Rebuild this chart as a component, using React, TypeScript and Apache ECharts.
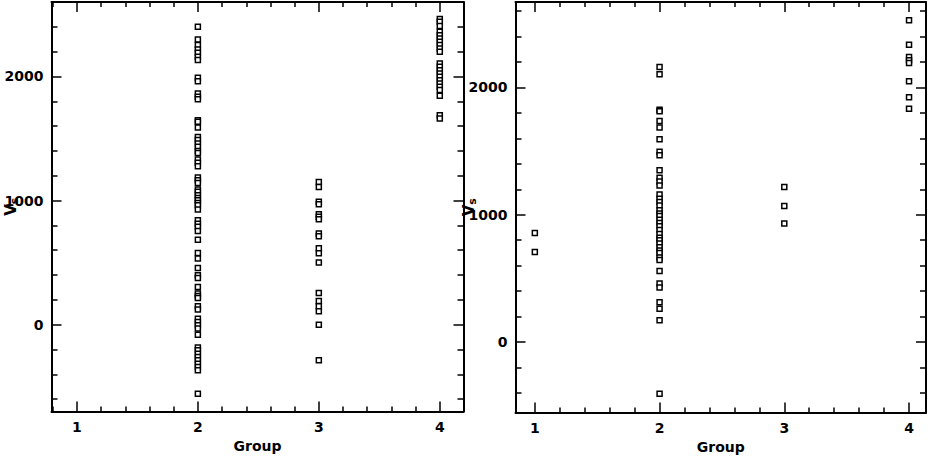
import React, { useEffect, useRef } from "react";
import * as echarts from "echarts";

const xTickLabels = [1, 2, 3, 4];
const yTickLabels = [0, 1000, 2000];

const leftGroup2 = [2400, 2298, 2253, 2218, 2191, 2158, 2132, 1989, 1962, 1863, 1836, 1817, 1648, 1634, 1588, 1513, 1487, 1460, 1433, 1400, 1384, 1331, 1304, 1277, 1185, 1164, 1142, 1089, 1070, 1043, 1021, 1003, 981, 962, 927, 841, 814, 788, 755, 685, 578, 532, 457, 398, 376, 304, 250, 231, 215, 148, 121, 48, 22, -5, -32, -81, -185, -207, -234, -261, -288, -315, -341, -368, -556];
const leftGroup3 = [1150, 1110, 990, 970, 890, 870, 850, 735, 712, 615, 575, 500, 255, 190, 148, 108, 0, -288];
const leftGroup4 = [2462, 2441, 2406, 2360, 2333, 2306, 2279, 2253, 2226, 2199, 2105, 2078, 2051, 2024, 1997, 1970, 1943, 1917, 1890, 1844, 1688, 1661];

const rightGroup1 = [856, 707];
const rightGroup2 = [2160, 2103, 1825, 1812, 1735, 1684, 1592, 1495, 1467, 1350, 1290, 1262, 1230, 1160, 1126, 1100, 1073, 1035, 1010, 990, 960, 935, 910, 880, 850, 820, 800, 775, 745, 720, 700, 665, 645, 558, 460, 430, 314, 262, 172, -405];
const rightGroup3 = [1217, 1068, 932];
const rightGroup4 = [2526, 2335, 2238, 2212, 2191, 2047, 1922, 1833];

const FONT = "DejaVu Sans";

function minorVals(min: number, max: number, step: number, majors: number[]) {
  const out: number[] = [];
  const start = Math.ceil(min / step - 1e-9);
  for (let k = start; k * step <= max + 1e-9; k++) {
    const v = Math.round(k * step * 1000) / 1000;
    if (v <= min || v >= max) continue;
    if (majors.some((m) => Math.abs(m - v) < 1e-6)) continue;
    out.push(v);
  }
  return out;
}

function buildAxes(gi: number, xr: number[], yr: number[], yNameGap: number) {
  const xMinor = minorVals(xr[0], xr[1], 0.2, xTickLabels);
  const yMinor = minorVals(yr[0], yr[1], 200, yTickLabels);
  const line = { show: true, onZero: false, lineStyle: { color: "#000", width: 2 } };
  const noLine = { show: false, onZero: false };
  const labelStyle = { fontFamily: FONT, fontWeight: "bold" as const, fontSize: 14, color: "#000" };
  const fmt = (v: number) => String(v);
  const tick = (vals: number[], len: number) => ({
    show: true,
    inside: true,
    length: len,
    customValues: vals,
    lineStyle: { color: "#000", width: 1.5 },
  });
  const xBase = { type: "value", gridIndex: gi, min: xr[0], max: xr[1], splitLine: { show: false } };
  const yBase = { type: "value", gridIndex: gi, min: yr[0], max: yr[1], splitLine: { show: false } };
  const xAxes = [
    {
      ...xBase,
      position: "bottom",
      axisLine: line,
      axisTick: tick(xTickLabels, 10),
      axisLabel: { ...labelStyle, customValues: xTickLabels, margin: 8, formatter: fmt },
      name: "Group",
      nameLocation: "middle",
      nameGap: 27,
      nameMoveOverlap: false,
      nameTextStyle: { ...labelStyle, fontSize: 14 },
    },
    { ...xBase, position: "bottom", axisLine: noLine, axisTick: tick(xMinor, 5), axisLabel: { show: false } },
    { ...xBase, position: "top", axisLine: line, axisTick: tick(xTickLabels, 10), axisLabel: { show: false } },
    { ...xBase, position: "top", axisLine: noLine, axisTick: tick(xMinor, 5), axisLabel: { show: false } },
  ];
  const yAxes = [
    {
      ...yBase,
      position: "left",
      axisLine: line,
      axisTick: tick(yTickLabels, 10),
      axisLabel: { ...labelStyle, customValues: yTickLabels, margin: 8, formatter: fmt },
      name: "{v|V}{s|s}",
      nameLocation: "middle",
      nameRotate: 90,
      nameGap: yNameGap,
      nameMoveOverlap: false,
      nameTextStyle: {
        rich: {
          v: { fontFamily: FONT, fontWeight: "bold", fontSize: 15, color: "#000" },
          s: { fontFamily: FONT, fontWeight: "bold", fontSize: 11, color: "#000", padding: [6, 0, 0, 0] },
        },
      },
    },
    { ...yBase, position: "left", axisLine: noLine, axisTick: tick(yMinor, 6), axisLabel: { show: false } },
    { ...yBase, position: "right", axisLine: line, axisTick: tick(yTickLabels, 10), axisLabel: { show: false } },
    { ...yBase, position: "right", axisLine: noLine, axisTick: tick(yMinor, 6), axisLabel: { show: false } },
  ];
  return { xAxes, yAxes };
}

function makeSeries(group: number, vals: number[], axisIdx: number) {
  return {
    type: "scatter",
    xAxisIndex: axisIdx,
    yAxisIndex: axisIdx,
    symbol: "rect",
    symbolSize: 5,
    itemStyle: { color: "#fff", borderColor: "#000", borderWidth: 1.5, opacity: 1 },
    data: vals.map((v) => [group, v]),
  };
}

export default function App() {
  const ref = useRef<HTMLDivElement>(null);
  useEffect(() => {
    if (!ref.current) return;
    const chart = echarts.init(ref.current, null, { renderer: "svg" });
    const L = buildAxes(0, [0.79, 4.196], [-700, 2600], 32);
    const R = buildAxes(1, [0.845, 4.136], [-552, 2670], 38);
    const option = {
      animation: false,
      backgroundColor: "#fff",
      grid: [
        { left: 51.5, top: 2, width: 412, height: 409.5, containLabel: false, outerBoundsMode: "none" },
        { left: 515.5, top: 2, width: 410.5, height: 410.5, containLabel: false, outerBoundsMode: "none" },
      ],
      xAxis: [...L.xAxes, ...R.xAxes],
      yAxis: [...L.yAxes, ...R.yAxes],
      series: [
        makeSeries(2, leftGroup2, 0),
        makeSeries(3, leftGroup3, 0),
        makeSeries(4, leftGroup4, 0),
        makeSeries(1, rightGroup1, 4),
        makeSeries(2, rightGroup2, 4),
        makeSeries(3, rightGroup3, 4),
        makeSeries(4, rightGroup4, 4),
      ],
    };
    chart.setOption(option as any);
    return () => chart.dispose();
  }, []);
  return (
    <div
      ref={ref}
      style={{ position: "absolute", left: 0, top: 0, width: 928, height: 456 }}
    />
  );
}
